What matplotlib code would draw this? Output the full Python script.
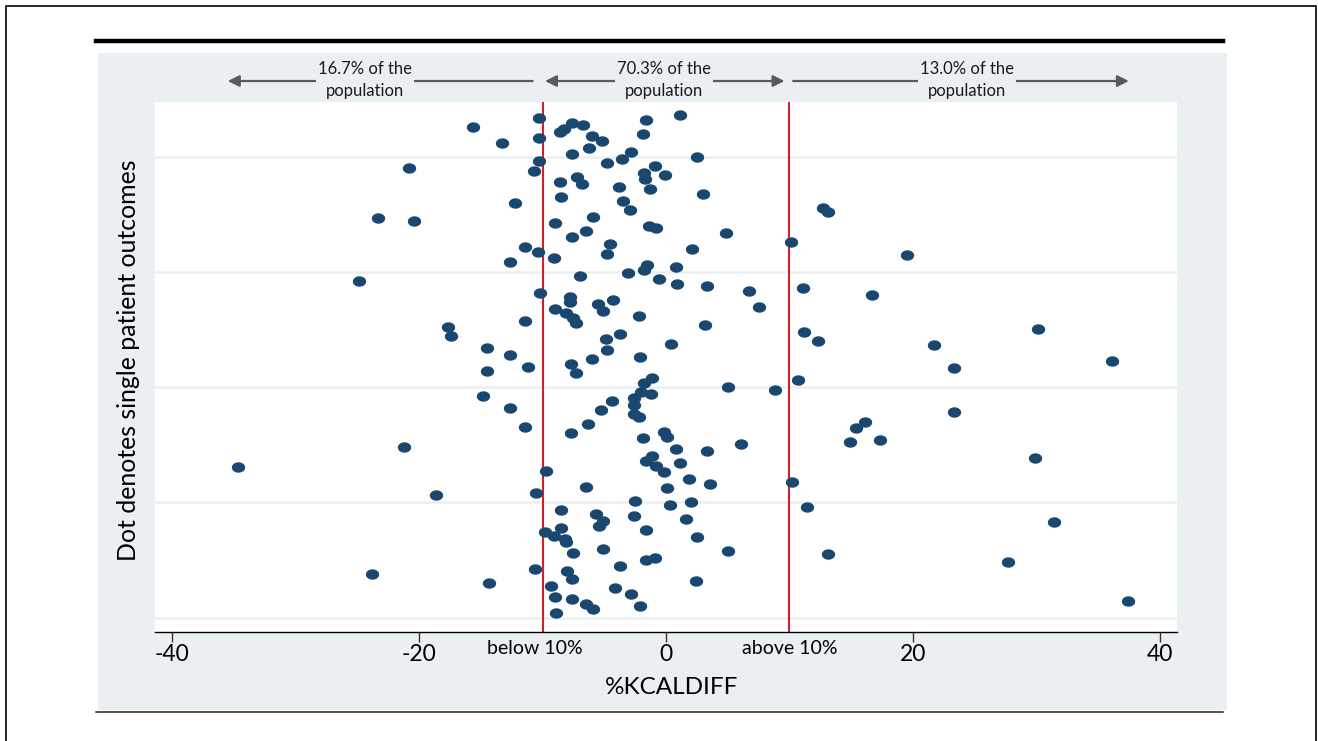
import numpy as np
import matplotlib.pyplot as plt
import matplotlib.transforms as mtransforms
from matplotlib.patches import Rectangle
from matplotlib.lines import Line2D

plt.rcParams['font.family'] = ['Lato', 'DejaVu Sans']
plt.rcParams['axes.unicode_minus'] = False

# %KCALDIFF per patient and its vertical (jitter) position
kcal_diff = [
    -10.3, -10.3, -10.3, -10.7, -12.2, -11.4, -10.4, -9.1, -8.6, -8.3,
    -7.6, -6.7, -6.0, -5.2, -6.2, -7.6, -4.8, -3.6, -2.8, -1.6,
    -1.9, -0.9, -1.8, -1.7, -0.1, -1.3, -8.6, -7.2, -6.8, -8.5,
    -3.8, -3.5, -2.9, -5.9, -9.0, -6.5, -7.6, -4.5, -4.8, -1.4,
    -0.8, -7.0, -3.1, -1.8, -1.5, -0.6, 1.1, 2.5, 3.0, 4.9,
    10.1, 2.1, 0.8, -10.2, -7.8, -7.8, -9.0, -8.1, -7.5, -7.3,
    -5.5, -5.1, -4.3, -2.2, -11.4, -4.9, -3.7, -4.8, 0.4, -6.0,
    -2.1, -11.2, -7.7, -7.3, -1.8, -1.1, -2.0, -1.2, -2.6, -2.6,
    -2.6, -2.2, -4.4, -5.3, -6.3, -11.4, -7.7, -1.9, -0.2, 0.1,
    0.9, 3.3, 6.7, 7.5, 11.1, 3.2, 11.2, 5.0, 8.8, 10.7,
    0.8, 3.3, 6.1, -9.7, -6.5, -10.5, -1.6, -1.1, -0.8, -0.2,
    0.1, 0.3, -2.5, -8.5, -5.7, -5.1, -5.4, -2.6, -1.6, -9.8,
    -9.1, -8.5, -8.2, -8.1, -7.5, -5.1, -3.7, -1.6, -0.9, -10.6,
    -8.0, -7.6, -9.3, -4.1, -2.8, -9.0, -7.6, -6.5, -5.9, -2.1,
    -8.9, 1.1, 1.9, 3.6, 10.2, 2.0, 11.4, 1.6, 2.5, 5.0,
    2.4, -15.6, -13.3, -20.8, -23.3, -20.4, -12.6, -24.9, -17.7, -17.4,
    -14.5, -12.6, -14.5, -14.8, -12.6, -21.2, -34.7, -18.6, -23.8, -14.3,
    12.7, 13.1, 19.5, 16.7, 30.1, 12.3, 21.7, 36.1, 23.3, 23.3,
    16.1, 15.4, 14.9, 17.3, 29.9, 31.4, 13.1, 27.7, 37.4,
]
patient_pos = [
    216.9, 208.0, 198.1, 193.9, 179.9, 160.9, 158.8, 155.9, 210.6, 211.9,
    214.7, 213.7, 209.0, 206.9, 203.9, 201.0, 197.1, 198.9, 201.9, 215.9,
    210.0, 196.0, 192.8, 190.2, 192.0, 186.0, 188.9, 191.0, 188.0, 182.6,
    186.7, 180.9, 176.9, 173.7, 171.1, 167.7, 165.0, 162.0, 157.8, 169.9,
    169.2, 148.2, 149.5, 150.8, 153.0, 147.1, 218.1, 199.7, 183.8, 167.0,
    163.1, 159.9, 152.0, 141.0, 139.2, 137.1, 133.9, 132.0, 129.9, 127.7,
    135.9, 133.0, 137.8, 130.9, 128.8, 120.9, 122.9, 116.1, 118.7, 112.1,
    112.9, 108.8, 109.9, 106.0, 101.9, 103.8, 98.0, 97.0, 95.1, 92.2,
    88.3, 86.9, 94.0, 90.1, 84.0, 82.8, 79.9, 77.8, 80.6, 78.5,
    144.7, 143.9, 141.8, 134.9, 142.9, 126.9, 124.0, 99.9, 98.7, 103.1,
    73.3, 72.3, 75.1, 63.7, 56.8, 53.9, 68.1, 70.1, 65.8, 63.0,
    56.0, 48.8, 50.7, 46.7, 44.8, 42.0, 39.8, 44.1, 38.0, 37.0,
    35.5, 39.0, 34.1, 32.9, 27.9, 29.7, 22.4, 25.0, 26.0, 20.9,
    20.2, 16.7, 13.8, 12.9, 10.1, 9.0, 7.9, 5.9, 3.7, 5.0,
    1.8, 66.9, 60.0, 57.9, 58.8, 50.0, 47.8, 42.9, 34.8, 28.9,
    15.8, 212.9, 205.9, 195.1, 173.4, 172.1, 154.3, 146.0, 126.1, 122.2,
    117.0, 113.9, 107.0, 96.1, 90.9, 74.0, 65.3, 53.2, 18.9, 15.0,
    177.7, 176.0, 157.3, 140.0, 125.2, 120.0, 118.3, 111.3, 108.3, 89.2,
    84.8, 82.2, 76.2, 77.0, 69.2, 41.4, 27.6, 24.1, 7.2,
]

cutoff = 10
share_labels = ['16.7% of the\npopulation', '70.3% of the\npopulation', '13.0% of the\npopulation']
share_xpos = [-24.4, -0.2, 24.4]
# arrow (tail, head) pairs in %KCALDIFF units
share_arrows = [(-10.8, -35.5), (-9.8, 9.6), (10.3, 37.5)]
cut_labels = ['below 10%', 'above 10%']
cut_label_xpos = [-10.6, 10.05]
xticks = [-40, -20, 0, 20, 40]
ygrid = [0, 50, 100, 150, 200]

navy = '#1a476f'
red = '#d0202e'
bg = '#eaf0f2'
grey = '#5a5a5a'

W, H = 1318, 741
fig = plt.figure(figsize=(W / 100, H / 100), dpi=100)

def px_box(x0, y0, x1, y1):
    return [x0 / W, 1 - y1 / H, (x1 - x0) / W, (y1 - y0) / H]

# graph region, frame and rules
fig.add_artist(Rectangle((5.5 / W, -0.05), (1316 - 5.5) / W, 1.05 - 6.5 / H,
                         transform=fig.transFigure, fill=False, lw=1.2, ec='k'))
fig.add_artist(Rectangle((97.5 / W, 1 - 710 / H), (1227 - 97.5) / W, (710 - 53) / H,
                         transform=fig.transFigure, fc=bg, ec='none', zorder=0))
fig.add_artist(Line2D([96 / W, 1223 / W], [1 - 41 / H] * 2, lw=3.2, color='k'))
fig.add_artist(Line2D([96 / W, 1223 / W], [1 - 711.5 / H] * 2, lw=1.1, color='#222222'))

ax = fig.add_axes(px_box(155, 102, 1177, 631.7))
ax.set_facecolor('white')
ax.set_xlim(-41.4, 41.4)
ax.set_ylim(-6.16, 223.7)

t = np.linspace(0, 2 * np.pi, 60)
dot = np.column_stack([np.cos(t), 0.78 * np.sin(t)])
ax.scatter(kcal_diff, patient_pos, marker=dot, s=92, c=navy, linewidths=0, zorder=3)

for v in (-cutoff, cutoff):
    ax.axvline(v, color=red, lw=1.5, zorder=2)

ax.set_yticks(ygrid)
ax.yaxis.grid(True, color=bg, lw=1.8)
ax.set_axisbelow(True)
ax.tick_params(axis='y', length=0, labelleft=False)

for s in ('left', 'top', 'right'):
    ax.spines[s].set_visible(False)
ax.spines['bottom'].set_linewidth(1.0)

ax.set_xticks(xticks)
ax.set_xticklabels([str(v) for v in xticks])
ax.tick_params(axis='x', which='major', length=7, width=1, color='#333333',
               labelsize=16.5, pad=1.5)

# labels under the cut-off lines
below = mtransforms.blended_transform_factory(ax.transData, ax.transAxes)
for x, lab in zip(cut_label_xpos, cut_labels):
    ax.text(x, -0.032, lab, transform=below, ha='center', va='center', fontsize=14)

ax.text(0.505, -0.106, '%KCALDIFF', transform=ax.transAxes, ha='center', va='center',
        fontsize=17.5)
ax.text(-0.0259, 0.513, 'Dot denotes single patient outcomes', transform=ax.transAxes,
        rotation=90, ha='center', va='center', fontsize=17.9)

# population share arrows above the plot
trans = mtransforms.blended_transform_factory(ax.transData, ax.transAxes)
yarr = 1.0396
styles = ['-|>', '<|-|>', '-|>']
for (x0, x1), st in zip(share_arrows, styles):
    ax.annotate('', xy=(x1, yarr), xytext=(x0, yarr), xycoords=trans, textcoords=trans,
                annotation_clip=False,
                arrowprops=dict(arrowstyle=st, color=grey, lw=1.6, shrinkA=0, shrinkB=0,
                                mutation_scale=17))
for x, lab in zip(share_xpos, share_labels):
    ax.text(x, yarr + 0.002, lab, transform=trans, ha='center', va='center', fontsize=12,
            linespacing=1.5, color='#1a1a1a', zorder=5, clip_on=False,
            bbox=dict(fc=bg, ec='none', pad=1.5))

fig.savefig('out.png', dpi=100)
